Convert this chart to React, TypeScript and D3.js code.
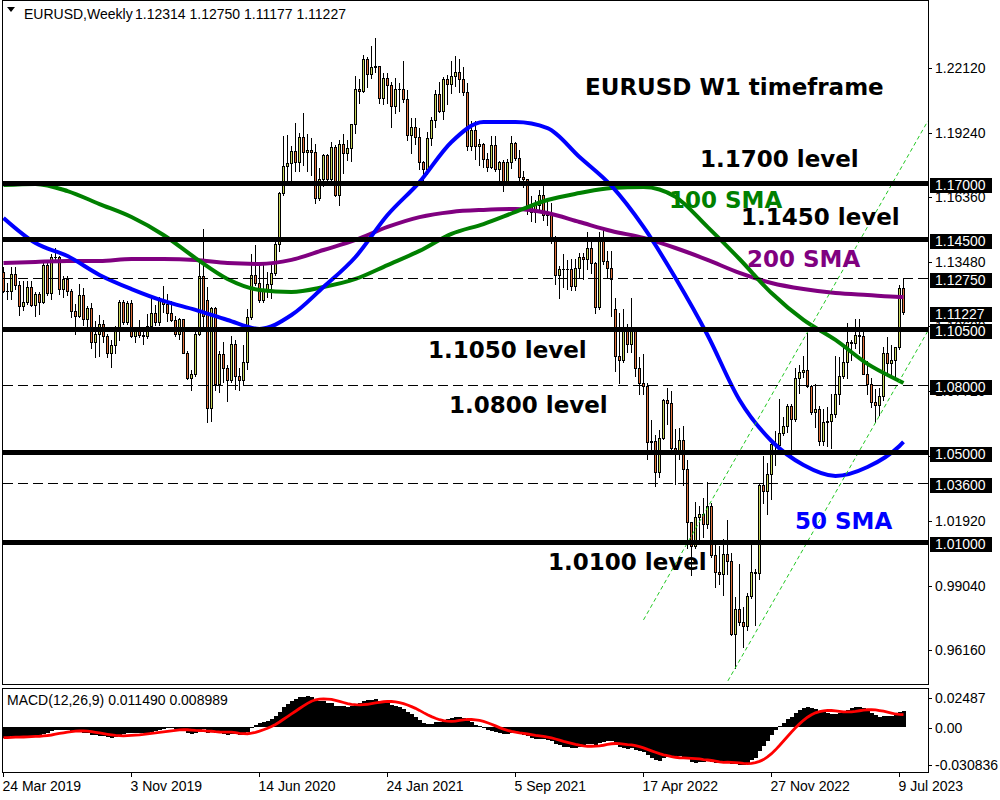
import React from "react";
import * as d3 from "d3";

// ---------- DATA ----------
// weekly OHLC bars [open, high, low, close], first bar = week of 24 Mar 2019
const bars2019 = [
  [1.1302,1.1325,1.1212,1.1218],[1.1218,1.1255,1.1183,1.1216],[1.1216,1.1324,1.1183,1.1296],[1.1296,1.1324,1.1226,1.1245],
  [1.1245,1.1265,1.1111,1.1150],[1.1150,1.1265,1.1134,1.1170],[1.1170,1.1263,1.1160,1.1234],[1.1234,1.1265,1.1152,1.1157],
  [1.1157,1.1215,1.1106,1.1204],[1.1204,1.1215,1.1116,1.1169],[1.1169,1.1348,1.1164,1.1334],[1.1334,1.1348,1.1202,1.1209],
  [1.1209,1.1383,1.1181,1.1370],[1.1370,1.1412,1.1352,1.1370],[1.1370,1.1374,1.1207,1.1225],[1.1225,1.1286,1.1193,1.1270],
  [1.1270,1.1286,1.1200,1.1220],[1.1220,1.1227,1.1101,1.1127],[1.1127,1.1162,1.1027,1.1108],[1.1108,1.1250,1.1100,1.1200],
  [1.1200,1.1230,1.1066,1.1092],[1.1092,1.1153,1.1052,1.1143],[1.1143,1.1164,1.0965,1.0989],[1.0989,1.1085,1.0926,1.1027],
  [1.1027,1.1110,1.0927,1.1073],[1.1073,1.1087,1.0990,1.1017],[1.1017,1.1025,1.0925,1.0940],[1.0940,1.1000,1.0879,1.0978],
  [1.0978,1.1063,1.0940,1.1043],[1.1043,1.1179,1.1000,1.1171],[1.1171,1.1180,1.1072,1.1080],[1.1080,1.1175,1.1073,1.1165],
  [1.1165,1.1177,1.1015,1.1018],[1.1018,1.1052,1.0989,1.1051],[1.1051,1.1089,1.1015,1.1020],[1.1020,1.1038,1.0981,1.1017],
  [1.1017,1.1117,1.1010,1.1060],[1.1060,1.1200,1.1040,1.1120],[1.1120,1.1154,1.1065,1.1079],[1.1079,1.1190,1.1068,1.1177],
  [1.1177,1.1239,1.1125,1.1160],
];
const bars2020 = [
  [1.1160,1.1206,1.1085,1.1120],[1.1120,1.1173,1.1086,1.1091],[1.1091,1.1105,1.1019,1.1025],[1.1025,1.1096,1.1004,1.1093],
  [1.1093,1.1095,1.0942,1.0943],[1.0943,1.0952,1.0827,1.0830],[1.0830,1.0865,1.0778,1.0847],[1.0847,1.1053,1.0840,1.1026],
  [1.1026,1.1355,1.1020,1.1285],[1.1285,1.1496,1.1055,1.1106],[1.1180,1.1236,1.0636,1.0695],[1.0695,1.1147,1.0637,1.1141],
  [1.1141,1.1147,1.0778,1.0805],[1.0805,1.0952,1.0769,1.0936],[1.0936,1.0990,1.0814,1.0875],[1.0875,1.0890,1.0727,1.0821],
  [1.0821,1.1019,1.0811,1.0982],[1.0982,1.1000,1.0782,1.0839],[1.0839,1.0876,1.0775,1.0819],[1.0819,1.0976,1.0800,1.0900],
  [1.0900,1.1137,1.0871,1.1101],[1.1101,1.1384,1.1095,1.1289],[1.1289,1.1422,1.1243,1.1256],[1.1256,1.1349,1.1168,1.1178],
  [1.1178,1.1349,1.1168,1.1218],[1.1218,1.1303,1.1190,1.1248],[1.1248,1.1345,1.1185,1.1300],[1.1300,1.1452,1.1290,1.1428],
  [1.1428,1.1660,1.1398,1.1656],[1.1656,1.1909,1.1645,1.1778],[1.1778,1.1916,1.1696,1.1788],[1.1788,1.1865,1.1711,1.1842],
  [1.1842,1.1966,1.1753,1.1795],[1.1795,1.1925,1.1754,1.1904],[1.1904,1.2011,1.1780,1.1837],[1.1837,1.1917,1.1753,1.1845],
  [1.1845,1.1901,1.1737,1.1838],[1.1838,1.1872,1.1612,1.1631],[1.1631,1.1767,1.1625,1.1717],[1.1717,1.1831,1.1686,1.1827],
  [1.1827,1.1829,1.1689,1.1718],[1.1718,1.1881,1.1703,1.1860],[1.1860,1.1870,1.1640,1.1648],[1.1648,1.1891,1.1603,1.1874],
  [1.1874,1.1920,1.1745,1.1834],[1.1834,1.1894,1.1801,1.1856],[1.1856,1.1965,1.1800,1.1962],[1.1962,1.2177,1.1925,1.2120],
  [1.2120,1.2165,1.2058,1.2110],[1.2110,1.2273,1.2105,1.2255],[1.2255,1.2262,1.2129,1.2188],[1.2188,1.2310,1.2168,1.2216],
];
const bars2021 = [
  [1.2216,1.2349,1.2193,1.2222],[1.2222,1.2223,1.2055,1.2080],[1.2080,1.2190,1.2053,1.2170],[1.2170,1.2190,1.2055,1.2136],
  [1.2136,1.2150,1.1952,1.2045],[1.2045,1.2169,1.2011,1.2118],[1.2118,1.2148,1.2023,1.2118],[1.2118,1.2243,1.2061,1.2075],
  [1.2075,1.2113,1.1893,1.1915],[1.1915,1.1990,1.1835,1.1952],[1.1952,1.1989,1.1874,1.1905],[1.1905,1.1945,1.1762,1.1794],
  [1.1794,1.1800,1.1704,1.1762],[1.1762,1.1927,1.1738,1.1900],[1.1900,1.1995,1.1870,1.1982],[1.1982,1.2117,1.1950,1.2097],
  [1.2097,1.2150,1.2018,1.2020],[1.2020,1.2172,1.1986,1.2165],[1.2165,1.2183,1.2052,1.2142],[1.2142,1.2245,1.2103,1.2179],
  [1.2179,1.2266,1.2133,1.2193],[1.2193,1.2254,1.2104,1.2166],[1.2166,1.2218,1.2093,1.2107],[1.2107,1.2144,1.1847,1.1863],
  [1.1863,1.1975,1.1848,1.1936],[1.1936,1.1975,1.1807,1.1864],[1.1864,1.1895,1.1782,1.1874],[1.1874,1.1880,1.1772,1.1806],
  [1.1806,1.1833,1.1752,1.1771],[1.1771,1.1909,1.1768,1.1870],[1.1870,1.1908,1.1755,1.1761],[1.1761,1.1799,1.1705,1.1795],
  [1.1795,1.1804,1.1664,1.1697],[1.1697,1.1809,1.1692,1.1795],[1.1795,1.1909,1.1768,1.1879],[1.1879,1.1885,1.1801,1.1813],
  [1.1813,1.1845,1.1700,1.1726],[1.1726,1.1752,1.1684,1.1719],[1.1719,1.1720,1.1563,1.1596],[1.1596,1.1640,1.1529,1.1572],
  [1.1572,1.1624,1.1524,1.1601],[1.1601,1.1669,1.1571,1.1645],[1.1645,1.1692,1.1535,1.1558],[1.1558,1.1616,1.1513,1.1567],
  [1.1567,1.1612,1.1432,1.1445],[1.1445,1.1464,1.1250,1.1289],[1.1289,1.1330,1.1185,1.1318],[1.1318,1.1382,1.1235,1.1316],
  [1.1316,1.1355,1.1227,1.1315],[1.1315,1.1361,1.1222,1.1240],[1.1240,1.1360,1.1221,1.1320],[1.1320,1.1386,1.1279,1.1370],
];
const bars2022 = [
  [1.1370,1.1386,1.1272,1.1360],[1.1360,1.1482,1.1315,1.1412],[1.1412,1.1435,1.1300,1.1344],[1.1344,1.1349,1.1121,1.1145],
  [1.1145,1.1483,1.1139,1.1450],[1.1450,1.1495,1.1340,1.1350],[1.1350,1.1395,1.1280,1.1321],[1.1321,1.1395,1.1106,1.1270],
  [1.1140,1.1186,1.0862,1.0929],[1.0929,1.1121,1.0806,1.0911],[1.0911,1.1137,1.0901,1.1050],[1.1050,1.1070,1.0945,1.0984],
  [1.0984,1.1185,1.0945,1.1046],[1.1046,1.1053,1.0837,1.0876],[1.0876,1.0924,1.0758,1.0810],[1.0810,1.0936,1.0758,1.0796],
  [1.0796,1.0810,1.0471,1.0545],[1.0545,1.0642,1.0492,1.0550],[1.0550,1.0576,1.0350,1.0412],[1.0412,1.0598,1.0389,1.0563],
  [1.0563,1.0737,1.0558,1.0733],[1.0733,1.0787,1.0627,1.0720],[1.0720,1.0774,1.0506,1.0519],[1.0519,1.0602,1.0359,1.0495],
  [1.0495,1.0606,1.0469,1.0554],[1.0554,1.0615,1.0351,1.0426],[1.0426,1.0464,1.0071,1.0186],[1.0186,1.0187,0.9952,1.0080],
  [1.0080,1.0279,1.0070,1.0212],[1.0212,1.0259,1.0097,1.0225],[1.0225,1.0294,1.0123,1.0180],[1.0180,1.0368,1.0159,1.0260],
  [1.0260,1.0272,1.0033,1.0039],[1.0039,1.0090,0.9899,0.9965],[0.9965,1.0079,0.9910,0.9954],[0.9954,1.0113,0.9864,1.0043],
  [1.0043,1.0198,0.9956,1.0014],[1.0014,1.0051,0.9684,0.9690],[0.9690,0.9854,0.9535,0.9801],[0.9801,0.9999,0.9730,0.9742],
  [0.9742,0.9810,0.9632,0.9722],[0.9722,0.9873,0.9705,0.9859],[0.9859,1.0094,0.9848,0.9965],[0.9965,0.9976,0.9730,0.9960],
  [0.9960,1.0363,0.9935,1.0355],[1.0355,1.0481,1.0271,1.0325],[1.0325,1.0449,1.0223,1.0400],[1.0400,1.0545,1.0290,1.0535],
  [1.0535,1.0594,1.0443,1.0530],[1.0530,1.0736,1.0500,1.0585],[1.0585,1.0657,1.0576,1.0618],[1.0618,1.0714,1.0590,1.0705],
];
const bars2023 = [
  [1.0705,1.0713,1.0483,1.0645],[1.0645,1.0874,1.0640,1.0830],[1.0830,1.0887,1.0765,1.0857],[1.0857,1.0929,1.0835,1.0868],
  [1.0868,1.1033,1.0790,1.0796],[1.0796,1.0800,1.0669,1.0677],[1.0677,1.0805,1.0613,1.0694],[1.0694,1.0705,1.0533,1.0547],
  [1.0547,1.0691,1.0533,1.0635],[1.0635,1.0700,1.0525,1.0640],[1.0640,1.0760,1.0516,1.0670],[1.0670,1.0930,1.0658,1.0760],
  [1.0760,1.0925,1.0713,1.0840],[1.0840,1.0973,1.0830,1.0900],[1.0900,1.1075,1.0831,1.0990],[1.0990,1.0999,1.0910,1.0988],
  [1.0988,1.1095,1.0964,1.1020],[1.1020,1.1092,1.0942,1.1019],[1.1019,1.1055,1.0848,1.0850],[1.0850,1.0904,1.0760,1.0803],
  [1.0803,1.0828,1.0701,1.0725],[1.0725,1.0779,1.0635,1.0708],[1.0708,1.0786,1.0665,1.0750],[1.0750,1.0970,1.0732,1.0940],
  [1.0940,1.1012,1.0845,1.0895],[1.0895,1.0976,1.0835,1.0910],[1.0910,1.0970,1.0833,1.0968],[1.0968,1.1245,1.0960,1.1230],
  [1.12314,1.12750,1.11177,1.11227],
];

// moving averages at these bar indices
const maSampleBars = [0,8,16,24,32,40,48,56,64,72,80,88,96,104,112,120,128,136,144,152,160,168,176,184,192,200,208,216,224,225];
const sma50 = [1.1544,1.1432,1.1374,1.1290,1.1227,1.1174,1.1134,1.1089,1.1049,1.1111,1.1236,1.1370,1.1557,1.1704,1.1883,1.1972,1.1972,1.1945,1.1816,1.1687,1.1504,1.1276,1.1022,1.0732,1.0549,1.0442,1.0393,1.0433,1.0527,1.0545];
const sma100 = [1.1691,1.1696,1.1664,1.1606,1.1548,1.1468,1.1365,1.1272,1.1223,1.1214,1.1236,1.1272,1.1334,1.1397,1.1473,1.1517,1.1571,1.1624,1.1655,1.1678,1.1682,1.1638,1.1504,1.1361,1.1209,1.1089,1.1000,1.0893,1.0817,1.0808];
const sma200 = [1.1343,1.1348,1.1352,1.1352,1.1361,1.1361,1.1357,1.1343,1.1339,1.1357,1.1401,1.1446,1.1504,1.1548,1.1571,1.1580,1.1584,1.1566,1.1526,1.1486,1.1455,1.1410,1.1357,1.1299,1.1254,1.1227,1.1209,1.1200,1.1192,1.1192];

// MACD(12,26,9): EMA state before the first bar, and main values of the 8 bars before it
const macdEmaSeed = [1.1290, 1.1370];
const macdPrior = [-0.0080,-0.0080,-0.0080,-0.0080,-0.0080,-0.0080,-0.0080,-0.0080];
// visible range of the MACD window as labelled on its axis
const macdMax = 0.02487;
const macdMin = -0.030836;

const solidLevels = [1.17, 1.145, 1.105, 1.05, 1.01];
const dashedLevels = [1.1275, 1.08, 1.036];
const boxLevels = [1.17, 1.145, 1.1275, 1.11227, 1.105, 1.08, 1.05, 1.036, 1.01];
const boxLabels = ["1.17000","1.14500","1.12750","1.11227","1.10500","1.08000","1.05000","1.03600","1.01000"];
const priceTicks = [1.2212,1.1924,1.1636,1.1348,1.106,1.0772,1.0482,1.0192,0.9904,0.9616];
const priceTickLabels = ["1.22120","1.19240","1.16360","1.13480","1.10600","1.07720","1.04820","1.01920","0.99040","0.96160"];
const macdTickLabels = ["0.02487","0.00","-0.030836"];
const dateTickBars = [0,32,64,96,128,160,192,224];
const dateTickLabels = ["24 Mar 2019","3 Nov 2019","14 Jun 2020","24 Jan 2021","5 Sep 2021","17 Apr 2022","27 Nov 2022","9 Jul 2023"];
const channelUpper = [[160, 0.9751],[231.1, 1.1977]];
const channelLower = [[181.1, 0.9479],[231.1, 1.1040]];

// ---------- CHART ----------
const allBars = [...bars2019, ...bars2020, ...bars2021, ...bars2022, ...bars2023];
const N = allBars.length;

const x = d3.scaleLinear().domain([0, N - 1]).range([3.5, 3.5 + 4 * (N - 1)]);
const y = d3.scaleLinear().domain([1.05, 1.17]).range([452, 183]);
const ym = d3.scaleLinear().domain([macdMin, macdMax]).range([768.5, 693]);

const BULL = "#c8d65a";
const BEAR = "#e0703a";
const AXF = "'Liberation Sans', Arial, sans-serif";
const BIGF = "'DejaVu Sans', Verdana, sans-serif";

const crisp = (v: number) => Math.round(v) + 0.5;

function computeMacd() {
  let e12 = macdEmaSeed[0];
  let e26 = macdEmaSeed[1];
  const main: number[] = [];
  for (const b of allBars) {
    const c = b[3];
    e12 += ((c - e12) * 2) / 13;
    e26 += ((c - e26) * 2) / 27;
    main.push(e12 - e26);
  }
  const padded = [...macdPrior, ...main];
  const signal = main.map((_, i) => d3.mean(padded.slice(i, i + 9)) as number);
  return { main, signal };
}

export default function App() {
  const { main, signal } = computeMacd();
  const maLine = d3
    .line<number>()
    .x((_, i) => x(maSampleBars[i]))
    .y((d) => y(d))
    .curve(d3.curveMonotoneX);
  const sigLine = d3
    .line<number>()
    .x((_, i) => x(i))
    .y((d) => ym(d));
  const chLine = d3
    .line<number[]>()
    .x((d) => x(d[0]))
    .y((d) => y(d[1]));

  const macdLabelY = [ym(macdMax) + 5, ym(0) + 1.5, ym(macdMin) - 3.5];
  const zeroY = Math.round(ym(0));

  return (
    <svg
      width={1000}
      height={800}
      style={{ position: "absolute", left: 0, top: 0, background: "#fff" }}
    >
      <defs>
        <clipPath id="mainClip">
          <rect x={3} y={1} width={925} height={683} />
        </clipPath>
        <clipPath id="macdClip">
          <rect x={3} y={689} width={925} height={83} />
        </clipPath>
      </defs>
      <rect x={0} y={0} width={1000} height={800} fill="#fff" />

      {/* ---- main pane ---- */}
      <g clipPath="url(#mainClip)">
        {allBars.map((b, i) => {
          const [o, h, l, c] = b;
          const cx = x(i);
          const top = crisp(y(Math.max(o, c)));
          const bot = crisp(y(Math.min(o, c)));
          return (
            <g key={i}>
              <line x1={cx} x2={cx} y1={Math.round(y(h))} y2={Math.round(y(l)) + 1} stroke="#000" strokeWidth={1} />
              {bot - top >= 1 ? (
                <rect x={cx - 1} y={top} width={2} height={bot - top} fill={c >= o ? BULL : BEAR} stroke="#000" strokeWidth={1} />
              ) : (
                <line x1={cx - 1.5} x2={cx + 1.5} y1={top} y2={top} stroke="#000" strokeWidth={1} />
              )}
            </g>
          );
        })}

        {/* moving averages */}
        <path d={maLine(sma200) || ""} fill="none" stroke="#800080" strokeWidth={4} />
        <path d={maLine(sma100) || ""} fill="none" stroke="#008000" strokeWidth={4} />
        <path d={maLine(sma50) || ""} fill="none" stroke="#0000ff" strokeWidth={4} />

        {/* channel */}
        <path d={chLine(channelUpper) || ""} fill="none" stroke="#22c822" strokeWidth={1} strokeDasharray="4,3" />
        <path d={chLine(channelLower) || ""} fill="none" stroke="#22c822" strokeWidth={1} strokeDasharray="4,3" />

        {/* levels */}
        {dashedLevels.map((p) => (
          <line key={p} x1={3} x2={928} y1={crisp(y(p))} y2={crisp(y(p))} stroke="#000" strokeWidth={1} strokeDasharray="10,5" />
        ))}
        {solidLevels.map((p) => (
          <line key={p} x1={3} x2={928} y1={Math.round(y(p)) + 0.5} y2={Math.round(y(p)) + 0.5} stroke="#000" strokeWidth={5} />
        ))}
      </g>

      {/* annotations */}
      <g fontFamily={BIGF} fontWeight="bold" fontSize={23}>
        <text x={585} y={95} fill="#000">EURUSD W1 timeframe</text>
        <text x={700} y={167} fill="#000">1.1700 level</text>
        <text x={669} y={208} fill="#008000">100 SMA</text>
        <text x={741} y={225} fill="#000">1.1450 level</text>
        <text x={747} y={267} fill="#800080">200 SMA</text>
        <text x={428} y={358} fill="#000">1.1050 level</text>
        <text x={449} y={413} fill="#000">1.0800 level</text>
        <text x={795} y={529} fill="#0000ff">50 SMA</text>
        <text x={548} y={570} fill="#000">1.0100 level</text>
      </g>

      {/* header */}
      <path d="M7,7 L15,7 L11,12 Z" fill="#000" />
      <text x={24} y={19} fontFamily={AXF} fontSize={14} fill="#000">EURUSD,Weekly</text>
      <text x={135} y={19} fontFamily={AXF} fontSize={14} fill="#000">1.12314 1.12750 1.11177 1.11227</text>

      {/* pane borders */}
      <rect x={2.5} y={0.5} width={926} height={684} fill="none" stroke="#000" strokeWidth={1} />
      <rect x={2.5} y={688.5} width={926} height={84} fill="none" stroke="#000" strokeWidth={1} />

      {/* price axis */}
      <g fontFamily={AXF} fontSize={14}>
        {priceTicks.map((p, i) => (
          <g key={p}>
            <line x1={928} x2={932} y1={crisp(y(p))} y2={crisp(y(p))} stroke="#000" />
            <text x={935} y={y(p) + 5} fill="#000">{priceTickLabels[i]}</text>
          </g>
        ))}
        {boxLevels.map((p, i) => (
          <g key={p}>
            <rect x={930} y={Math.round(y(p)) - 5} width={62} height={15} fill="#000" />
            <text x={935} y={Math.round(y(p)) + 7} fill="#fff">{boxLabels[i]}</text>
          </g>
        ))}
      </g>

      {/* MACD pane */}
      <g clipPath="url(#macdClip)" shapeRendering="crispEdges">
        {main.map((v, i) => {
          const y1 = Math.round(ym(v));
          return (
            <rect key={i} x={x(i) - 1.5} y={Math.min(zeroY, y1)} width={4} height={Math.max(1, Math.abs(y1 - zeroY))} fill="#000" />
          );
        })}
      </g>
      <g clipPath="url(#macdClip)">
        <path d={sigLine(signal) || ""} fill="none" stroke="#ff0000" strokeWidth={2.8} />
      </g>
      <text x={7} y={705} fontFamily={AXF} fontSize={14} fill="#000">MACD(12,26,9) 0.011490 0.008989</text>
      <g fontFamily={AXF} fontSize={14}>
        {macdLabelY.map((ly, i) => (
          <g key={i}>
            <line x1={928} x2={932} y1={crisp(ly)} y2={crisp(ly)} stroke="#000" />
            <text x={935} y={ly + 5} fill="#000">{macdTickLabels[i]}</text>
          </g>
        ))}
      </g>

      {/* time axis */}
      <g fontFamily={AXF} fontSize={14}>
        {dateTickBars.map((b, i) => (
          <g key={b}>
            <line x1={Math.floor(x(b)) + 0.5} x2={Math.floor(x(b)) + 0.5} y1={773} y2={777} stroke="#000" />
            <text x={x(b) - 1} y={791} fill="#000">{dateTickLabels[i]}</text>
          </g>
        ))}
      </g>
    </svg>
  );
}
